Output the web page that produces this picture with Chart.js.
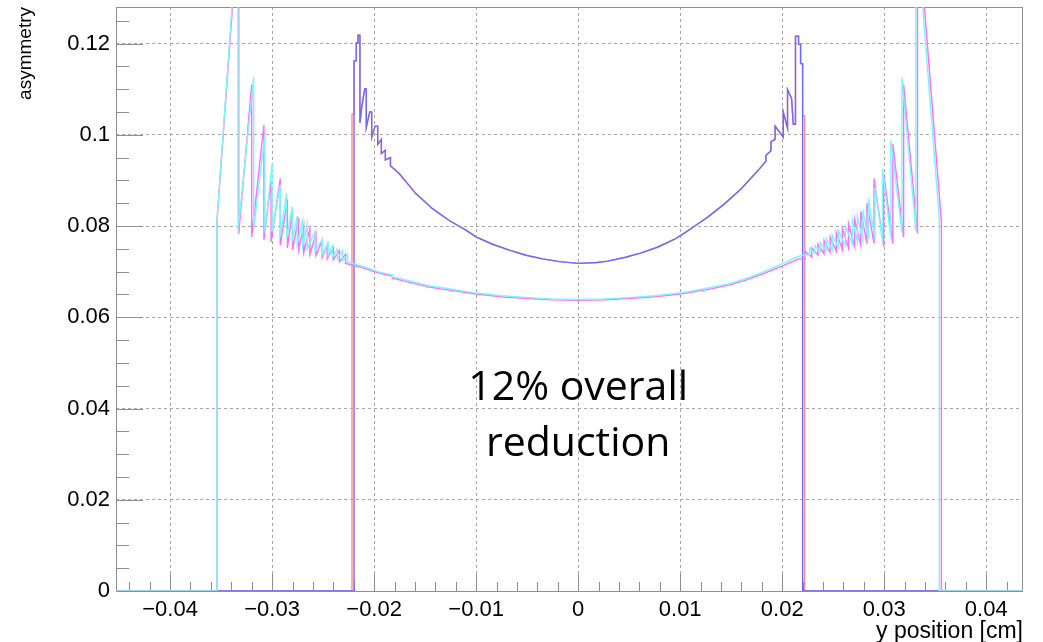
<!DOCTYPE html>
<html>
<head>
<meta charset="utf-8">
<title>asymmetry vs y position</title>
<script src="https://cdn.jsdelivr.net/npm/chart.js@4.4.1/dist/chart.umd.min.js"></script>
<style>
  html, body { margin: 0; padding: 0; background: #fff; }
</style>
</head>
<body>
<canvas id="asym" width="1043" height="642"></canvas>
<script>
// axis ranges and tick steps
var xRange = [-0.0453, 0.0436];
var yRange = [0, 0.128];
var xMajor = 0.01, xMinor = 0.002;
var yMajor = 0.02, yMinor = 0.005;
var xTitle = "y position [cm]";
var yTitle = "asymmetry";
var note = ["12% overall", "reduction"];

// inner (blue) distribution, [y position, asymmetry]
var blue = [
  [-0.0453, 0], [-0.02197, 0], [-0.02197, 0.1162], [-0.02175, 0.1162], [-0.02175, 0.1201],
  [-0.02158, 0.1201], [-0.02158, 0.1218], [-0.02139, 0.1218], [-0.02139, 0.1026], [-0.02122, 0.1060],
  [-0.02092, 0.1101], [-0.02077, 0.1101], [-0.02077, 0.1016], [-0.02043, 0.1050], [-0.02024, 0.1050],
  [-0.02024, 0.0994], [-0.01991, 0.1019], [-0.01965, 0.1019], [-0.01965, 0.0979], [-0.01929, 0.0990],
  [-0.01929, 0.0959], [-0.0189, 0.0966], [-0.0189, 0.0945], [-0.0184, 0.0950], [-0.0184, 0.0932],
  [-0.01755, 0.0915], [-0.01591, 0.0871], [-0.01428, 0.0838], [-0.01264, 0.0812], [-0.0110, 0.0791],
  [-0.01002, 0.0776], [-0.00839, 0.0760], [-0.00675, 0.0747], [-0.00511, 0.0736], [-0.00348, 0.0728],
  [-0.00184, 0.0722], [0, 0.0718], [0.00184, 0.0720], [0.00291, 0.0723], [0.00455, 0.0731],
  [0.00619, 0.0741], [0.00782, 0.0754], [0.00946, 0.0771], [0.01044, 0.0785], [0.01175, 0.0805],
  [0.01273, 0.0820], [0.01437, 0.0849], [0.01601, 0.0882], [0.01764, 0.0922], [0.0184, 0.0942],
  [0.0184, 0.0955], [0.0189, 0.0965], [0.0189, 0.0985], [0.0193, 0.0990], [0.0193, 0.1019],
  [0.0201, 0.0995], [0.0201, 0.1050], [0.02052, 0.1014], [0.02052, 0.1099], [0.02092, 0.1079],
  [0.02108, 0.1023], [0.0213, 0.1023], [0.0213, 0.1216], [0.0216, 0.1216], [0.0216, 0.1198],
  [0.0218, 0.1198], [0.0218, 0.1156], [0.0220, 0.1156], [0.0220, 0], [0.0436, 0]
];
// red edge bins (red otherwise lies under blue)
var redLeft = [[-0.0453, 0], [-0.02217, 0], [-0.02217, 0.1045], [-0.02197, 0.1045]];
var redRight = [[0.0220, 0.1041], [0.0222, 0.1041], [0.0222, 0], [0.0436, 0]];

// outer (cyan) distribution
var cyanLeft = [
  [-0.0453, 0], [-0.0354, 0], [-0.0354, 0.0812],
  [-0.03334, 0.147], [-0.03334, 0.0790],
  [-0.0318, 0.1126], [-0.0318, 0.0794],
  [-0.0307, 0.1000], [-0.0307, 0.0785],
  [-0.0300, 0.0937], [-0.0300, 0.0788],
  [-0.0292, 0.0890], [-0.0292, 0.0776],
  [-0.02859, 0.0872], [-0.02859, 0.0772],
  [-0.02803, 0.0842], [-0.02803, 0.0765],
  [-0.02754, 0.0822], [-0.02754, 0.0760],
  [-0.0270, 0.0812], [-0.0270, 0.0756],
  [-0.02656, 0.0804], [-0.02656, 0.0750],
  [-0.0258, 0.0788], [-0.0258, 0.0745],
  [-0.02509, 0.0770], [-0.02509, 0.0738],
  [-0.0245, 0.0762], [-0.0245, 0.0735],
  [-0.0241, 0.0756], [-0.0241, 0.0731],
  [-0.0236, 0.0750], [-0.0236, 0.0728],
  [-0.0231, 0.0746], [-0.0231, 0.0724],
  [-0.0226, 0.0738], [-0.0226, 0.0721]
];
var cyanMid = [
  [-0.0215, 0.0714], [-0.0208, 0.0709], [-0.0195, 0.0699], [-0.0182, 0.0693], [-0.0182, 0.0688],
  [-0.0179, 0.0687], [-0.0146, 0.0669], [-0.0125, 0.0662], [-0.0100, 0.0653], [-0.0075, 0.0647],
  [-0.0048, 0.0643], [-0.0025, 0.0640], [0, 0.0639], [0.0025, 0.0640], [0.0050, 0.0643],
  [0.0075, 0.0647], [0.0100, 0.0653], [0.0125, 0.0663], [0.0149, 0.0674], [0.0165, 0.0685],
  [0.0181, 0.0699], [0.0201, 0.0718], [0.0214, 0.0732], [0.0222, 0.0737]
];
var cyanRight = [
  [0.0227, 0.0737], [0.0227, 0.0751],
  [0.0232, 0.0740], [0.0232, 0.0757],
  [0.0237, 0.0743], [0.0237, 0.0764],
  [0.0243, 0.0745], [0.0243, 0.0772],
  [0.0249, 0.0748], [0.0249, 0.0780],
  [0.0255, 0.0752], [0.0255, 0.0790],
  [0.0262, 0.0756], [0.0262, 0.0800],
  [0.02688, 0.0760], [0.02688, 0.0815],
  [0.02737, 0.0765], [0.02737, 0.0822],
  [0.0279, 0.0768], [0.0279, 0.0835],
  [0.02845, 0.0772], [0.02845, 0.0860],
  [0.0291, 0.0770], [0.0291, 0.0885],
  [0.02983, 0.0766], [0.02983, 0.0926],
  [0.03065, 0.0772], [0.03065, 0.0988],
  [0.03173, 0.0786], [0.03173, 0.1125],
  [0.0331, 0.0790], [0.0331, 0.147],
  [0.0354, 0.0815], [0.0354, 0], [0.0436, 0]
];

// outer (magenta) distribution
var magentaLeft = [
  [-0.0453, 0], [-0.0354, 0], [-0.0354, 0.0812],
  [-0.03327, 0.147], [-0.03327, 0.0783],
  [-0.0320, 0.1110], [-0.0320, 0.0776],
  [-0.0308, 0.1021], [-0.0308, 0.0770],
  [-0.0301, 0.0900], [-0.0301, 0.0765],
  [-0.0292, 0.0904], [-0.0292, 0.0758],
  [-0.0285, 0.0858], [-0.0285, 0.0752],
  [-0.0280, 0.0834], [-0.0280, 0.0748],
  [-0.0274, 0.0818], [-0.0274, 0.0748],
  [-0.0269, 0.0800], [-0.0269, 0.0742],
  [-0.0263, 0.0794], [-0.0263, 0.0738],
  [-0.0257, 0.0782], [-0.0257, 0.0735],
  [-0.0251, 0.0768], [-0.0251, 0.0731],
  [-0.0246, 0.0759], [-0.0246, 0.0728],
  [-0.0240, 0.0752], [-0.0240, 0.0726],
  [-0.0234, 0.0746], [-0.0234, 0.0722],
  [-0.0228, 0.0738], [-0.0228, 0.0718]
];
var magentaMid = [
  [-0.0215, 0.0711], [-0.0208, 0.0706], [-0.0195, 0.0697], [-0.0182, 0.0690], [-0.0182, 0.0685],
  [-0.0179, 0.0684], [-0.0146, 0.0666], [-0.0125, 0.0659], [-0.0100, 0.0651], [-0.0075, 0.0645],
  [-0.0048, 0.0641], [-0.0025, 0.0638], [0, 0.0637], [0.0025, 0.0638], [0.0050, 0.0641],
  [0.0075, 0.0645], [0.0100, 0.0651], [0.0125, 0.0660], [0.0149, 0.0671], [0.0165, 0.0682],
  [0.0181, 0.0695], [0.0201, 0.0713], [0.0210, 0.0722], [0.0216, 0.0728]
];
var magentaRight = [
  [0.0222, 0.0728], [0.0222, 0.0745],
  [0.0229, 0.0732], [0.0229, 0.0752],
  [0.0235, 0.0736], [0.0235, 0.0760],
  [0.0241, 0.0739], [0.0241, 0.0768],
  [0.0247, 0.0742], [0.0247, 0.0776],
  [0.0253, 0.0745], [0.0253, 0.0786],
  [0.0259, 0.0748], [0.0259, 0.0795],
  [0.0265, 0.0752], [0.0265, 0.0805],
  [0.0271, 0.0755], [0.0271, 0.0815],
  [0.0277, 0.0758], [0.0277, 0.0832],
  [0.0283, 0.0762], [0.0283, 0.0850],
  [0.0290, 0.0762], [0.0290, 0.0904],
  [0.02995, 0.0755], [0.02995, 0.0915],
  [0.03084, 0.0762], [0.03084, 0.0980],
  [0.0319, 0.0775], [0.0319, 0.1110],
  [0.03326, 0.0783], [0.03326, 0.147],
  [0.0356, 0.0810], [0.0356, 0], [0.0436, 0]
];

function pts(list) {
  return list.map(function (p) { return { x: p[0], y: p[1] }; });
}
function fmt(v) {
  var r = Math.round(v * 1000) / 1000;
  return r === 0 ? "0" : String(r).replace("-", "\u2212");
}

var redLine = redLeft.concat(blue.slice(2, -2), redRight);
var cyanLine = cyanLeft.concat(cyanMid, cyanRight);
var magentaLine = magentaLeft.concat(magentaMid, magentaRight);

// frame and inner ticks, ROOT style
var frameTicks = {
  id: "frameTicks",
  beforeDatasetsDraw: function (chart) {
    var ctx = chart.ctx, a = chart.chartArea;
    var xs = chart.scales.x, ys = chart.scales.y;
    var i, p, len;
    ctx.save();
    ctx.strokeStyle = "#8f8f8f";
    ctx.lineWidth = 1;
    ctx.beginPath();
    for (i = Math.ceil(xRange[0] / xMinor); i * xMinor <= xRange[1]; i++) {
      p = Math.round(xs.getPixelForValue(i * xMinor)) + 0.5;
      len = (i % 5 === 0) ? 17 : 9;
      ctx.moveTo(p, a.bottom);
      ctx.lineTo(p, a.bottom - len);
    }
    for (i = 0; i * yMinor <= yRange[1] + 1e-9; i++) {
      p = Math.round(ys.getPixelForValue(i * yMinor)) + 0.5;
      len = (i % 4 === 0) ? 27 : 13;
      ctx.moveTo(a.left, p);
      ctx.lineTo(a.left + len, p);
    }
    ctx.stroke();
    ctx.strokeRect(Math.round(a.left) + 0.5, Math.round(a.top) + 0.5,
      Math.round(a.right - a.left) - 1, Math.round(a.bottom - a.top));
    ctx.restore();
  }
};

var notePlugin = {
  id: "note",
  afterDatasetsDraw: function (chart, args, opts) {
    var ctx = chart.ctx, xs = chart.scales.x, ys = chart.scales.y;
    ctx.save();
    ctx.font = opts.font;
    ctx.fillStyle = "#000";
    ctx.textAlign = "center";
    ctx.textBaseline = "alphabetic";
    note.forEach(function (line, k) {
      ctx.fillText(line, xs.getPixelForValue(opts.at), ys.getPixelForValue(opts.baselines[k]));
    });
    ctx.restore();
  }
};

Chart.defaults.font.family = '"Liberation Sans", Arial, sans-serif';
Chart.defaults.color = "#000";

function lineSet(label, list, color, order) {
  return {
    label: label,
    data: pts(list),
    showLine: true,
    borderColor: color,
    backgroundColor: color,
    borderWidth: 1.4,
    pointRadius: 0,
    tension: 0,
    fill: false,
    borderJoinStyle: "miter",
    order: order
  };
}

new Chart(document.getElementById("asym"), {
  type: "scatter",
  data: {
    datasets: [
      lineSet("cyan", cyanLine, "#7af7f7", 1),
      lineSet("magenta", magentaLine, "#ff6cff", 2),
      lineSet("blue", blue, "#6a6aff", 3),
      lineSet("red", redLine, "#ff8c8c", 4)
    ]
  },
  options: {
    responsive: false,
    animation: false,
    events: [],
    layout: { padding: { top: 7, right: 20, left: 0, bottom: 0 } },
    plugins: {
      legend: { display: false },
      tooltip: { enabled: false },
      note: { font: '41px "Open Sans"', at: 0, baselines: [0.0418, 0.0295] }
    },
    scales: {
      x: {
        type: "linear",
        min: xRange[0],
        max: xRange[1],
        afterFit: function (s) { s.height = 51; s.paddingLeft = 0; s.paddingRight = 0; },
        border: { display: false, dash: [3, 3] },
        grid: { color: "#a8a8a8", drawTicks: false },
        ticks: {
          stepSize: xMajor,
          includeBounds: false,
          autoSkip: false,
          maxRotation: 0,
          padding: 6,
          font: { size: 22 },
          callback: function (v) { return fmt(v); }
        },
        title: {
          display: true,
          text: xTitle,
          align: "end",
          font: { size: 23, lineHeight: 1 },
          padding: { top: 0, bottom: -1 }
        }
      },
      y: {
        type: "linear",
        min: yRange[0],
        max: yRange[1],
        afterFit: function (s) { s.width = 116; s.paddingTop = 0; s.paddingBottom = 0; },
        border: { display: false, dash: [3, 3] },
        grid: { color: "#a8a8a8", drawTicks: false },
        ticks: {
          stepSize: yMajor,
          includeBounds: false,
          padding: 6,
          font: { size: 22 },
          callback: function (v) { return fmt(v); }
        },
        title: {
          display: true,
          text: yTitle,
          align: "end",
          font: { size: 19 },
          padding: { top: 14, bottom: 0 }
        }
      }
    }
  },
  plugins: [frameTicks, notePlugin]
});
</script>
</body>
</html>
